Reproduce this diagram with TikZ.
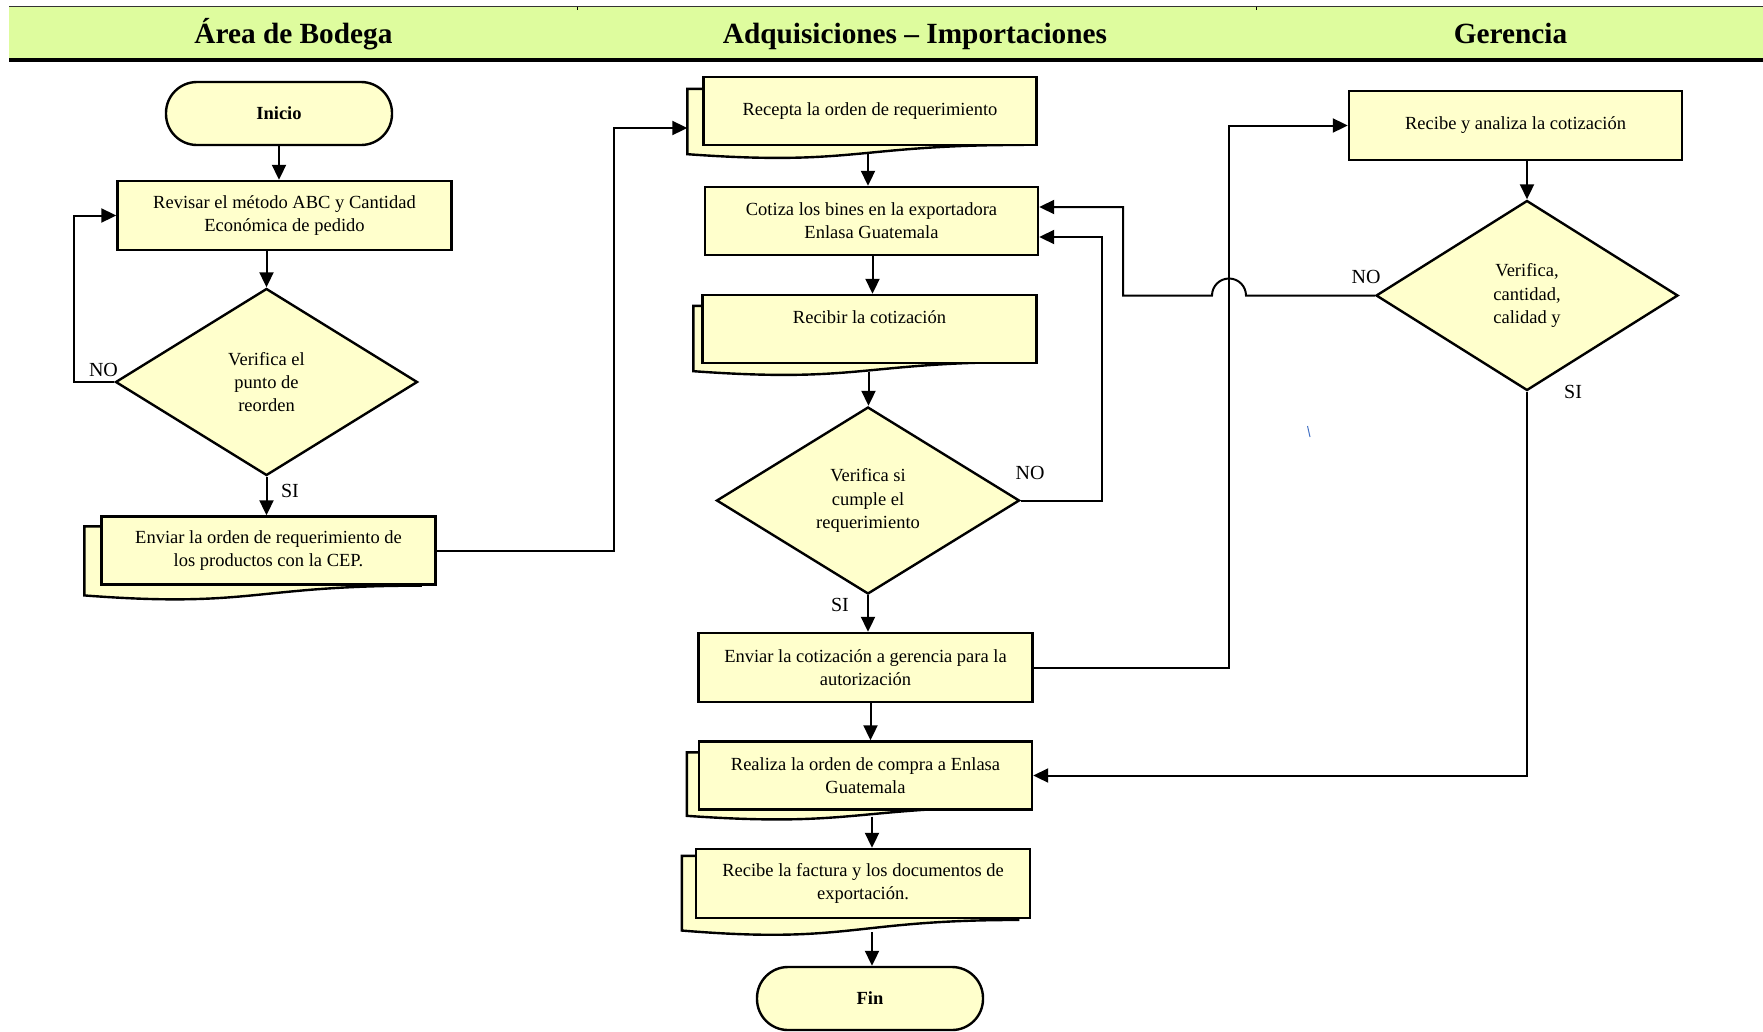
\documentclass[tikz,border=0pt]{standalone}
\usepackage{fontspec}
\setmainfont{Liberation Serif}
\usetikzlibrary{shapes.geometric,arrows.meta,calc,backgrounds}
\definecolor{hdr}{RGB}{222,252,158}
\definecolor{nfill}{RGB}{255,255,204}
\definecolor{stray}{RGB}{68,114,196}
\tikzset{
 box/.style={draw=black, line width=2.4pt, fill=nfill, inner sep=0pt, align=center, font=\fontsize{18.5}{23.3}\selectfont},
 term/.style={box, rounded corners=31pt, font=\fontsize{18.5}{23.3}\selectfont\bfseries},
 dec/.style={box, diamond, aspect=1.6},
 conn/.style={line width=2pt, -{Triangle[length=15pt,width=14pt]}},
 lbl/.style={font=\fontsize{20}{24}\selectfont, inner sep=0pt},
 docback/.style={draw=black, line width=2.4pt, fill=nfill, line join=miter},
 hdrtext/.style={font=\fontsize{29.3}{34}\selectfont\bfseries, inner sep=0pt, anchor=base}
}
\newcommand\backdoc[4]{%
  \begin{scope}[on background layer]
  \draw[docback] ($(#1.north west)+(-#2,#3)$) -- ($(#1.north east)+(-#2,#3)$) -- ($(#1.north east)+(-#2,#3+0.802*#4)$) .. controls ($(#1.north)+(-#2,#3+0.802*#4)$) and ($(#1.north)+(-#2,#3+1.107*#4)$) .. ($(#1.north west)+(-#2,#3+0.934*#4)$) -- cycle;
  \end{scope}}
\begin{document}
\begin{tikzpicture}[x=1pt,y=-1pt]
\useasboundingbox (0,0) rectangle (1763,1031);
% header band
\fill[hdr] (9,7) rectangle (1763,59);
\draw[line width=1pt, black!80] (9,6.5) -- (1763,6.5);
\draw[line width=0.8pt] (577,6.5) -- (577,10) (1256,6.5) -- (1256,10);
\draw[line width=3.5pt] (9,60) -- (1763,60);
\node[hdrtext] (h1) at (293.5,43.5) {Área de Bodega};
\node[hdrtext] (h2) at (915,43.5) {Adquisiciones -- Importaciones};
\node[hdrtext] (h3) at (1510.5,43.5) {Gerencia};

% Area de Bodega
\node[term, minimum width=226pt, minimum height=63pt] (inicio) at (279,113.5) {Inicio};
\node[box, minimum width=334pt, minimum height=69pt] (revisar) at (284.5,215.5) {Revisar el método ABC y Cantidad\\Económica de pedido};
\node[dec, minimum width=302pt, minimum height=187pt] (d1) at (266.5,382) {Verifica el\\punto de\\reorden};
\node[box, minimum width=334pt, minimum height=68pt] (envbod) at (268.5,550.5) {Enviar la orden de requerimiento de\\los productos con la CEP.};
\backdoc{envbod}{16}{11}{74}

% Adquisiciones
\node[box, minimum width=333pt, minimum height=68pt] (recepta) at (870,111) {Recepta la orden de requerimiento};
\backdoc{recepta}{15}{13}{70}
\node[box, minimum width=333pt, minimum height=68pt] (cotiza) at (871.5,221) {Cotiza los bines en la exportadora\\Enlasa Guatemala};
\node[box, minimum width=334pt, minimum height=68pt] (recibir) at (869.5,329) {Recibir la cotización\\\mbox{}};
\backdoc{recibir}{8}{12}{70}
\node[dec, minimum width=303pt, minimum height=187pt] (d2) at (868,500.5) {Verifica si\\cumple el\\requerimiento};
\node[box, minimum width=334pt, minimum height=69pt] (envcot) at (865.5,667.5) {Enviar la cotización a gerencia para la\\autorización};
\node[box, minimum width=333pt, minimum height=68pt] (realiza) at (865.5,775.5) {Realiza la orden de compra a Enlasa\\Guatemala};
\backdoc{realiza}{11}{12}{68}
\node[box, minimum width=334pt, minimum height=69pt] (recfac) at (863,883.5) {Recibe la factura y los documentos de\\exportación.};
\backdoc{recfac}{13}{8}{80}
\node[term, minimum width=226pt, minimum height=63pt] (fin) at (870,998.5) {Fin};

% Gerencia
\node[box, minimum width=333pt, minimum height=69pt] (recibe) at (1515.5,125.5) {Recibe y analiza la cotización};
\node[dec, minimum width=302pt, minimum height=190pt] (d3) at (1527,295.5) {Verifica,\\cantidad,\\calidad y};

% helper coordinates
\coordinate (v1) at (614,0);
\coordinate (v2) at (1102,0);
\coordinate (v3) at (1229,0);
\coordinate (v4) at (1123,0);
\coordinate (receptaIn) at ($(recepta.west)+(-15,17)$);
\coordinate (cotIn1) at ($(cotiza.east)+(0,-14)$);
\coordinate (cotIn2) at ($(cotiza.east)+(0,16)$);
\coordinate (a1) at ($(recepta.south)+(-2,7)$);
\coordinate (a2) at ($(cotiza.south)+(1,0)$);
\coordinate (a3) at ($(recibir.south)+(-1,8)$);
\coordinate (a4) at ($(envcot.south)+(5,0)$);
\coordinate (a5) at ($(realiza.south)+(6.5,6)$);
\coordinate (a6) at ($(recfac.south)+(9,13)$);

% connectors
\draw[conn] (inicio.south) -- (inicio.south |- revisar.north);
\draw[conn] (d1.north |- revisar.south) -- (d1.north);
\draw[conn] (d1.west) -- ++(-40,0) |- (revisar.west);
\draw[conn] (d1.south) -- (d1.south |- envbod.north);
\draw[conn] (envbod.east) -| (v1 |- receptaIn) -- (receptaIn);
\draw[conn] (a1) -- (a1 |- cotiza.north);
\draw[conn] (a2) -- (a2 |- recibir.north);
\draw[conn] (a3) -- (a3 |- d2.north);
\draw[conn] (d2.south) -- (d2.south |- envcot.north);
\draw[conn] (d2.east) -| (v2 |- cotIn2) -- (cotIn2);
\draw[conn] (envcot.east) -| (v3 |- recibe.west) -- (recibe.west);
\draw[conn] (d3.north |- recibe.south) -- (d3.north);
\draw[conn] (d3.west) -- ($(v3 |- d3.west)+(17,0)$) arc[start angle=0,end angle=180,radius=17pt] -| (v4 |- cotIn1) -- (cotIn1);
\draw[conn] (d3.south) |- (realiza.east);
\draw[conn] (a4) -- (a4 |- realiza.north);
\draw[conn] (a5) -- (a5 |- recfac.north);
\draw[conn] (a6) -- (a6 |- fin.north);

% labels
\node[lbl] (no1) at (103.5,370) {NO};
\node[lbl] (si1) at (290,491) {SI};
\node[lbl] (no2) at (1030,473) {NO};
\node[lbl] (si2) at (840,605) {SI};
\node[lbl] (no3) at (1366,277) {NO};
\node[lbl] (si3) at (1573,392) {SI};

% stray mark
\draw[stray, line width=1pt] (1307.5,426) -- (1310,437);
\end{tikzpicture}
\end{document}
